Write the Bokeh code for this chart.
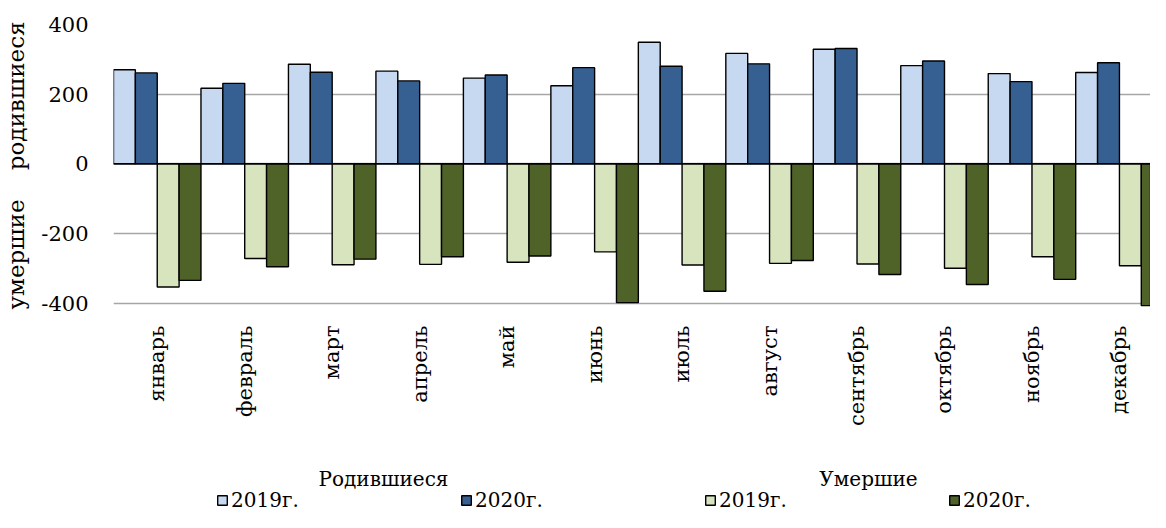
import math
from bokeh.plotting import figure
from bokeh.layouts import column
from bokeh.models import (Range1d, FixedTicker, Span, Legend, LegendItem, Label,
                          ColumnDataSource)
from bokeh.embed import file_html
from bokeh.resources import INLINE

# ---- data ----
months = ["январь", "февраль", "март", "апрель", "май", "июнь",
          "июль", "август", "сентябрь", "октябрь", "ноябрь", "декабрь"]
born_2019 = [270, 217, 286, 266, 246, 224, 349, 317, 329, 282, 259, 262]
born_2020 = [261, 231, 263, 238, 255, 276, 280, 287, 331, 295, 236, 290]
died_2019 = [-354, -272, -290, -289, -283, -253, -291, -286, -288, -300, -267, -293]
died_2020 = [-335, -296, -274, -267, -265, -399, -366, -278, -318, -347, -332, -408]
y_ticks = [-400, -200, 0, 200, 400]
group_titles = ["Родившиеся", "Умершие"]
series_labels = ["2019г.", "2020г.", "2019г.", "2020г."]

FONT = "DejaVu Serif"
colors = ["#C6D9F1", "#376092", "#D7E4BD", "#4F6228"]
LC = "black"
LW = 1.4

idx = list(range(len(months)))
bw = 0.25
src = ColumnDataSource(dict(
    xb19=[i + 0.5 * bw for i in idx],
    xb20=[i + 1.5 * bw for i in idx],
    xd19=[i + 2.5 * bw for i in idx],
    xd20=[i + 3.5 * bw for i in idx],
    b19=born_2019, b20=born_2020, d19=died_2019, d20=died_2020,
))
series = [("xb19", "b19"), ("xb20", "b20"), ("xd19", "d19"), ("xd20", "d20")]

W = 1150
p = figure(width=W, height=458, output_backend="svg", toolbar_location=None,
           x_range=Range1d(0, 11.855), y_range=Range1d(-410, 400),
           min_border_top=24, min_border_bottom=152, min_border_left=107,
           min_border_right=0)
p.outline_line_color = None
p.background_fill_color = "white"
p.border_fill_color = "white"

p.xgrid.visible = False
p.ygrid.ticker = FixedTicker(ticks=y_ticks)
p.ygrid.grid_line_color = "#A6A6A6"
p.ygrid.grid_line_width = 1.5

for (xcol, ycol), c in zip(series, colors):
    p.vbar(x=xcol, top=ycol, bottom=0, width=bw, source=src,
           fill_color=c, line_color=LC, line_width=LW)

p.add_layout(Span(location=0, dimension="width", line_color="black", line_width=1.5))

yax = p.yaxis[0]
yax.ticker = FixedTicker(ticks=y_ticks)
yax.major_label_overrides = {t: str(t) for t in y_ticks}
yax.major_tick_line_color = None
yax.minor_tick_line_color = None
yax.axis_line_color = None
yax.major_label_standoff = 19
yax.major_label_text_font = FONT
yax.major_label_text_font_size = "21px"
yax.major_label_text_color = "black"
yax.axis_label = "умершие\u00a0\u00a0\u00a0\u00a0родившиеся"
yax.axis_label_text_font = FONT
yax.axis_label_text_font_size = "23px"
yax.axis_label_text_font_style = "normal"
yax.axis_label_text_color = "black"
yax.axis_label_standoff = 9

xax = p.xaxis[0]
xax.ticker = FixedTicker(ticks=[i + 0.5 for i in idx])
xax.major_label_overrides = {i + 0.5: m for i, m in zip(idx, months)}
xax.major_label_orientation = math.pi / 2
xax.major_tick_line_color = None
xax.minor_tick_line_color = None
xax.axis_line_color = None
xax.major_label_standoff = 13
xax.major_label_text_font = FONT
xax.major_label_text_font_size = "21px"
xax.major_label_text_color = "black"

# ---- legend strip (its frame is aligned with the main frame) ----
H2 = 54
q = figure(width=W, height=H2, output_backend="svg", toolbar_location=None,
           x_range=Range1d(-1000, -900), y_range=Range1d(1000, 1100),
           x_axis_location=None, y_axis_location=None,
           min_border_top=0, min_border_bottom=0, min_border_left=107,
           min_border_right=0)
q.outline_line_color = None
q.grid.visible = False
q.background_fill_color = "white"
q.border_fill_color = "white"

# the same bar series (far outside this strip's ranges) serve as legend swatches
swatches = [q.vbar(x=xcol, top=ycol, bottom=0, width=bw, source=src,
                   fill_color=c, line_color=LC, line_width=LW)
            for (xcol, ycol), c in zip(series, colors)]
legend = Legend(items=[LegendItem(label=series_labels[k], renderers=[r])
                       for k, r in enumerate(swatches)],
                orientation="horizontal", location=(103, 0),
                padding=0, margin=0, spacing=0, label_standoff=3,
                glyph_width=12, glyph_height=12, label_width=229,
                border_line_color=None, background_fill_alpha=0,
                label_text_font=FONT, label_text_font_size="20px",
                label_text_color="black")
q.add_layout(legend, "center")

for txt, xc in zip(group_titles, [270, 755]):
    q.add_layout(Label(x=xc, y=34, x_units="screen", y_units="screen",
                       text=txt, text_align="center", text_baseline="middle",
                       text_font=FONT, text_font_size="20px", text_color="black"))

layout = column(p, q, spacing=0)
open("out.html", "w").write(file_html(layout, INLINE))
